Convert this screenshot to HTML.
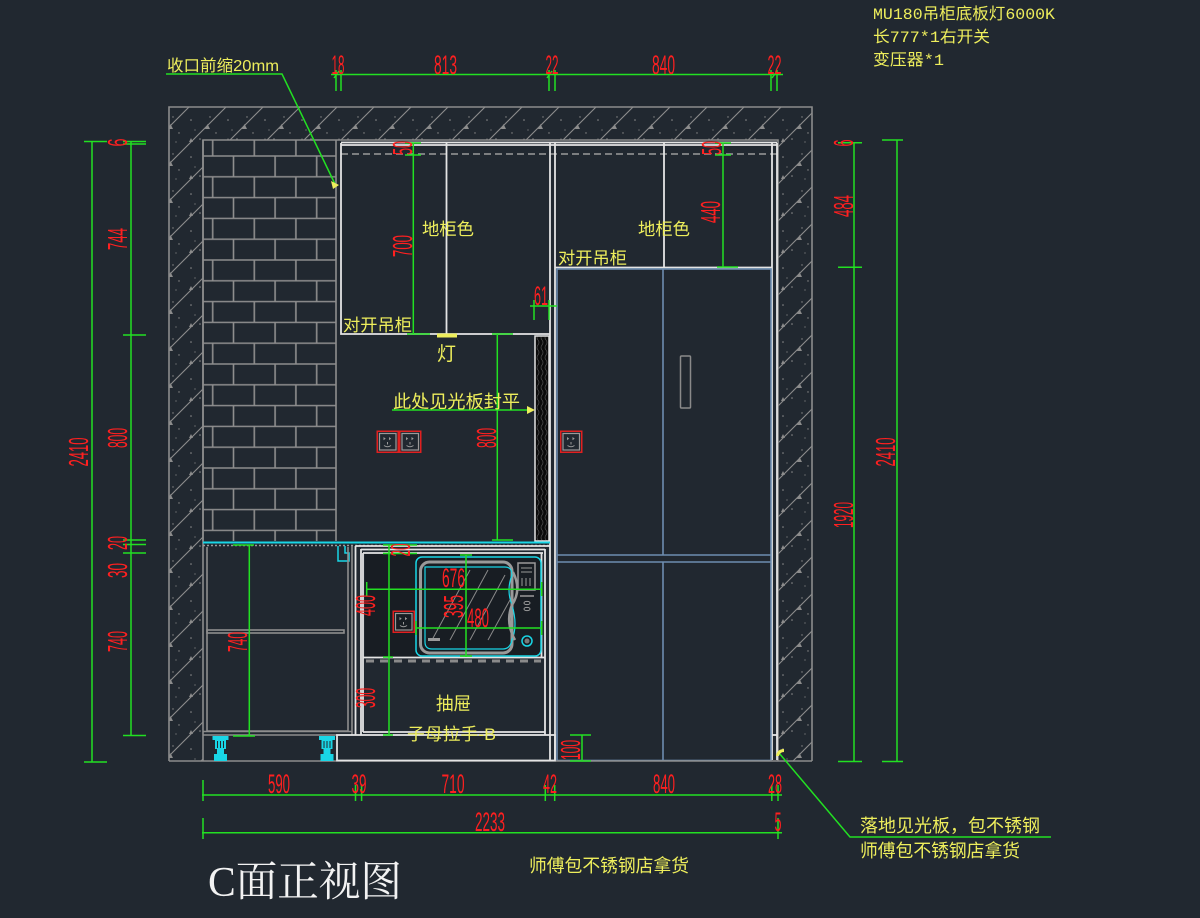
<!DOCTYPE html>
<html><head><meta charset="utf-8">
<style>
html,body{margin:0;padding:0;background:#212830;}
svg{display:block}
.y{fill:#eeee5c;font-family:"Liberation Sans","WenQuanYi Zen Hei","Noto Sans CJK SC",sans-serif;}
.ym{fill:#eeee5c;font-family:"Liberation Mono","WenQuanYi Zen Hei","Noto Sans CJK SC",monospace;}
.r{fill:#ff2020;font-family:"Liberation Sans",sans-serif;font-size:28px;}
.rh{fill:#ff2020;font-family:"Liberation Sans",sans-serif;font-size:27px;}
</style></head><body>
<svg width="1200" height="918" viewBox="0 0 1200 918" xmlns="http://www.w3.org/2000/svg">
<defs>
<pattern id="h" patternUnits="userSpaceOnUse" width="37" height="37">
<path d="M0,37L37,0M-4,4L4,-4M33,41L41,33" stroke="#8c8c8c" stroke-width="1.1"/>
<g fill="#8c8c8c">
<circle cx="6" cy="9" r=".8"/><circle cx="25" cy="6" r=".7"/><circle cx="15" cy="28" r=".8"/><circle cx="31" cy="22" r=".7"/><circle cx="10" cy="19" r=".6"/><circle cx="28" cy="31" r=".6"/>
<path d="M20,18l2.5,-5l2.5,5z"/><path d="M4,31l2,-4l2,4z"/>
</g>
</pattern>
<pattern id="b" patternUnits="userSpaceOnUse" x="212.7" y="135.2" width="41.6" height="41.6">
<path d="M0,0H41.6M0,20.8H41.6M0,41.6H41.6M0,0V20.8M41.6,0V20.8M20.8,20.8V41.6" stroke="#8e8e8e" stroke-width="1.6" fill="none"/>
</pattern>
<pattern id="w" patternUnits="userSpaceOnUse" width="4" height="10">
<path d="M2,0q2,2.5 0,5q-2,2.5 0,5" stroke="#4e4e4e" fill="none" stroke-width=".7"/>
</pattern>
<g id="sk">
<rect x="0.75" y="0.75" width="21" height="21" fill="none" stroke="#e02020" stroke-width="1.5"/>
<rect x="3" y="3" width="16.5" height="16.5" fill="none" stroke="#9a9a9a" stroke-width="1.2"/>
<path d="M7,6.5l2.2,1.6l-2.2,1.6zM12.5,6.5l2.2,1.6l-2.2,1.6z" fill="#9a9a9a"/>
<path d="M11,11.5v2.5M7.5,15q3.5,2.5 7,0" stroke="#9a9a9a" fill="none" stroke-width="1"/>
</g>
<g id="leg" fill="#19d6e6">
<rect x="0" y="0" width="16" height="4"/><rect x="2.5" y="4" width="11" height="9"/><rect x="4.5" y="13" width="7" height="5"/><rect x="1.5" y="18" width="13" height="7"/>
<path d="M5,5v7M8,5v7M11,5v7" stroke="#212830" stroke-width="1"/>
</g>
</defs>

<!-- walls -->
<rect x="169" y="107" width="643" height="33" fill="url(#h)"/>
<rect x="169" y="140" width="34" height="621" fill="url(#h)"/>
<rect x="778" y="140" width="34" height="621" fill="url(#h)"/>
<path d="M169,761V107H812V761M203,761V140H778V761M169,761H203M778,761H812" stroke="#8c8c8c" stroke-width="1.6" fill="none"/>

<!-- bricks -->
<rect x="203" y="140" width="133" height="401" fill="url(#b)"/>
<path d="M203,140V541M336,140V541" stroke="#8e8e8e" stroke-width="1.6"/>

<!-- upper cabinets -->
<path d="M341,154H777" stroke="#9a9a9a" stroke-width="1.6" stroke-dasharray="7 4"/>
<g stroke="#e4e4e4" stroke-width="1.8" fill="none">
<path d="M341,142.5H777M341,145H777"/>
<path d="M341,143V334H550"/>
<path d="M446.5,143V334"/>
<path d="M550,143V760M555,143V760"/>
<path d="M555,267.5H772"/>
<path d="M664,143V267"/>
<path d="M772,143V760M777,143V760"/>
<path d="M772,735H777"/>
</g>

<!-- fridge -->
<g stroke="#6d8db0" stroke-width="1.6" fill="none">
<rect x="557" y="269" width="214" height="491.5"/>
<path d="M663,269V555M663,562V760M557,555H771M557,562H771"/>
</g>
<rect x="680.5" y="356" width="10" height="52" rx="1" fill="none" stroke="#8a8a8a" stroke-width="1.5"/>
<use href="#sk" x="560" y="430.5"/>

<!-- dark panel -->
<rect x="535" y="336" width="14" height="205" fill="#0b0b0b"/>
<rect x="535" y="336" width="14" height="205" fill="url(#w)" stroke="#e4e4e4" stroke-width="1.5"/>

<!-- sockets left -->
<use href="#sk" x="376.5" y="430.5"/>
<use href="#sk" x="399" y="430.5"/>

<!-- lower section -->
<path d="M203,542.5H550" stroke="#19d6e6" stroke-width="2"/>
<path d="M203,545.5H550" stroke="#9a9a9a" stroke-width="1.5" stroke-dasharray="2 2"/>
<path d="M338,546V561H349V553H345V546" stroke="#19d6e6" stroke-width="1.5" fill="none"/>
<g stroke="#8e8e8e" stroke-width="1.6" fill="none">
<path d="M207,547V731H348V547"/>
<path d="M352,546V735"/>
<rect x="207" y="630" width="137" height="3"/>
<path d="M203,735H337M203,731.5H352"/>
<path d="M203,761H778"/>
</g>
<rect x="365" y="553" width="176.5" height="104" fill="#181d23"/>
<g stroke="#e4e4e4" stroke-width="1.8" fill="none">
<path d="M355.5,546V735M361,549V735M363,553V732"/>
<path d="M355.5,546H550M361,549.5H545M363,553H543"/>
<path d="M545,549V735M541.5,553V657"/>
<path d="M363,657.5H545"/>
<path d="M363,732H545"/>
<rect x="337" y="735" width="218" height="25.5"/>
</g>
<path d="M366,661H541" stroke="#8a8a8a" stroke-width="3" stroke-dasharray="8 6"/>

<!-- microwave -->
<rect x="416" y="557" width="125" height="99" rx="6" fill="none" stroke="#19d6e6" stroke-width="1.5"/>
<rect x="420.5" y="562" width="91.5" height="91" rx="9" fill="none" stroke="#9a9a9a" stroke-width="3"/>
<path d="M425,567H505Q512,567 512,575Q506,590 512,605Q518,625 512,640Q510,649 503,649H432Q425,649 425,642Z" fill="none" stroke="#19d6e6" stroke-width="1.2"/>
<path d="M513,572Q522,590 512,605Q505,622 515,640" stroke="#9a9a9a" stroke-width="2.5" fill="none"/>
<g stroke="#8a8a8a" stroke-width="1">
<path d="M432,640L470,570M450,640L488,570M470,640L505,575M488,640L510,600"/>
</g>
<rect x="428" y="638" width="12" height="3" fill="#9a9a9a"/>
<rect x="518" y="563" width="17" height="27" fill="none" stroke="#9a9a9a" stroke-width="1.5"/>
<path d="M521,568H532M521,572H532M522,578V586M526,578V586M530,578V586" stroke="#9a9a9a" stroke-width="1"/>
<path d="M520,596H534" stroke="#9a9a9a" stroke-width="1.5"/>
<ellipse cx="527" cy="603" rx="3" ry="1.6" fill="none" stroke="#9a9a9a"/>
<ellipse cx="527" cy="609" rx="3" ry="1.6" fill="none" stroke="#9a9a9a"/>
<circle cx="527" cy="641" r="5" fill="none" stroke="#19d6e6" stroke-width="1.5"/>
<circle cx="527" cy="641" r="2.5" fill="#7a7a7a"/>
<use href="#sk" x="392.5" y="610.5"/>

<!-- legs -->
<use href="#leg" x="212.5" y="736"/>
<use href="#leg" x="319" y="736"/>

<!-- green dimension lines -->
<g stroke="#22e022" stroke-width="1.5" fill="none">
<!-- top -->
<path d="M331,74.5H783"/>
<path d="M336,70V91M341,70V91M549,70V91M555,70V91M771,70V91M777,70V91"/>
<path d="M334,78l5,-7M547,78l5,-7M772,78l5,-7"/>
<!-- leader top-left -->
<path d="M166,74H282L335,184"/>
<!-- left outer -->
<path d="M92,141.5V762M84,141.5H107M84,762H107"/>
<!-- left inner -->
<path d="M131,141.5V735.5M123,141.5H146M123,144H146M123,335H146M123,540H146M123,544.5H146M123,553H146M123,735.5H146"/>
<!-- right inner -->
<path d="M854,142.7V761.5M838,142.7H862M838,267.3H862M838,761.5H862"/>
<!-- right outer -->
<path d="M897,140V761.5M882,140H903M882,761.5H903"/>
<!-- upper cab dims -->
<path d="M413.3,143V334M405,143H421M405,155H421M407,334H430"/>
<path d="M723,143V267M715,143H731M715,155H731M717,267H738"/>
<path d="M530,306H557M534,300V320M549,300V320"/>
<path d="M497.3,334V540M492,334H513M492,540H513"/>
<path d="M392,410H533"/>
<!-- lower dims -->
<path d="M249.3,545V736M233,545H254M233,736H255"/>
<path d="M389,545V735M383,545H417M383,553.5H417M383,657H393M383,735H393"/>
<path d="M366.7,589.3H541.7M366.7,582V596M541.7,582V596"/>
<path d="M416,628H541.7M416,621V635M541.7,621V635"/>
<path d="M466,555V657M460,555H472M460,656H472"/>
<path d="M582,735V761M570,735H591M570,761H591"/>
<!-- bottom leader -->
<path d="M779,753L850,837H1051"/>
<!-- bottom dims -->
<path d="M202,795H782M203,780V801M355.5,785V801M361.6,785V801M545.3,785V801M554.7,785V801M771.8,785V801M778,785V801"/>
<path d="M202,832.7H782M203,818V839M778,818V839"/>
</g>

<!-- yellow arrows / marks -->
<g fill="#eeee5c">
<path d="M331,181L339,185L333,189Z"/>
<path d="M527,406L535,410L527,414Z"/>
<path d="M776,756Q777,749 784,749L784,752Q780,752 779,756Z"/>
<rect x="437" y="333.5" width="20" height="4"/>
</g>

<!-- red dimension texts horizontal -->
<g class="rh" text-anchor="middle" lengthAdjust="spacingAndGlyphs">
<text x="338" y="74" textLength="13" lengthAdjust="spacingAndGlyphs">18</text>
<text x="445.5" y="74" textLength="23" lengthAdjust="spacingAndGlyphs">813</text>
<text x="552" y="74" textLength="13" lengthAdjust="spacingAndGlyphs">22</text>
<text x="663.5" y="74" textLength="23" lengthAdjust="spacingAndGlyphs">840</text>
<text x="774.5" y="74" textLength="14" lengthAdjust="spacingAndGlyphs">22</text>
<text x="279" y="793" textLength="22" lengthAdjust="spacingAndGlyphs">590</text>
<text x="359" y="793" textLength="15" lengthAdjust="spacingAndGlyphs">39</text>
<text x="453" y="793" textLength="23" lengthAdjust="spacingAndGlyphs">710</text>
<text x="550" y="793" textLength="14" lengthAdjust="spacingAndGlyphs">42</text>
<text x="664" y="793" textLength="22" lengthAdjust="spacingAndGlyphs">840</text>
<text x="775" y="793" textLength="14" lengthAdjust="spacingAndGlyphs">28</text>
<text x="490" y="831" textLength="30" lengthAdjust="spacingAndGlyphs">2233</text>
<text x="778" y="831" textLength="7" lengthAdjust="spacingAndGlyphs">5</text>
<text x="541" y="305" textLength="14" lengthAdjust="spacingAndGlyphs">61</text>
<text x="453.5" y="587" textLength="23" lengthAdjust="spacingAndGlyphs">676</text>
<text x="478" y="627" textLength="22" lengthAdjust="spacingAndGlyphs">480</text>
</g>

<!-- red rotated texts -->
<g class="r" text-anchor="middle">
<text transform="translate(88,452) rotate(-90)" textLength="29" lengthAdjust="spacingAndGlyphs">2410</text>
<text transform="translate(127,142.5) rotate(-90)" textLength="8" lengthAdjust="spacingAndGlyphs">6</text>
<text transform="translate(127,239) rotate(-90)" textLength="22" lengthAdjust="spacingAndGlyphs">744</text>
<text transform="translate(127,438) rotate(-90)" textLength="20" lengthAdjust="spacingAndGlyphs">800</text>
<text transform="translate(127,543) rotate(-90)" textLength="14" lengthAdjust="spacingAndGlyphs">20</text>
<text transform="translate(127,570.5) rotate(-90)" textLength="15" lengthAdjust="spacingAndGlyphs">30</text>
<text transform="translate(127,641.5) rotate(-90)" textLength="21" lengthAdjust="spacingAndGlyphs">740</text>
<text transform="translate(412,148) rotate(-90)" textLength="14" lengthAdjust="spacingAndGlyphs">50</text>
<text transform="translate(412,246) rotate(-90)" textLength="22" lengthAdjust="spacingAndGlyphs">700</text>
<text transform="translate(496,438) rotate(-90)" textLength="20" lengthAdjust="spacingAndGlyphs">800</text>
<text transform="translate(721,148) rotate(-90)" textLength="14" lengthAdjust="spacingAndGlyphs">50</text>
<text transform="translate(720,212) rotate(-90)" textLength="22" lengthAdjust="spacingAndGlyphs">440</text>
<text transform="translate(853,143) rotate(-90)" textLength="7" lengthAdjust="spacingAndGlyphs">6</text>
<text transform="translate(853,206) rotate(-90)" textLength="22" lengthAdjust="spacingAndGlyphs">484</text>
<text transform="translate(853,515) rotate(-90)" textLength="26" lengthAdjust="spacingAndGlyphs">1920</text>
<text transform="translate(895,452) rotate(-90)" textLength="29" lengthAdjust="spacingAndGlyphs">2410</text>
<text transform="translate(247,642) rotate(-90)" textLength="20" lengthAdjust="spacingAndGlyphs">740</text>
<text transform="translate(375,605.5) rotate(-90)" textLength="21" lengthAdjust="spacingAndGlyphs">400</text>
<text transform="translate(375,698) rotate(-90)" textLength="20" lengthAdjust="spacingAndGlyphs">300</text>
<text transform="translate(410,550) rotate(-90)" textLength="13" lengthAdjust="spacingAndGlyphs">20</text>
<text transform="translate(463,606.5) rotate(-90)" textLength="23" lengthAdjust="spacingAndGlyphs">395</text>
<text transform="translate(580,750) rotate(-90)" textLength="20" lengthAdjust="spacingAndGlyphs">100</text>
</g>

<!-- yellow texts -->
<text class="y" x="167" y="71" font-size="16" textLength="112" lengthAdjust="spacingAndGlyphs">收口前缩20mm</text>
<text class="y" x="422" y="235" font-size="17" textLength="52" lengthAdjust="spacingAndGlyphs">地柜色</text>
<text class="y" x="638" y="235" font-size="17" textLength="52" lengthAdjust="spacingAndGlyphs">地柜色</text>
<text class="y" x="343" y="331" font-size="17" textLength="69" lengthAdjust="spacingAndGlyphs">对开吊柜</text>
<text class="y" x="558" y="264" font-size="17" textLength="69" lengthAdjust="spacingAndGlyphs">对开吊柜</text>
<text class="y" x="437" y="360" font-size="19" textLength="19" lengthAdjust="spacingAndGlyphs">灯</text>
<text class="y" x="393" y="408" font-size="18" textLength="127" lengthAdjust="spacingAndGlyphs">此处见光板封平</text>
<text class="y" x="436" y="710" font-size="18" textLength="35" lengthAdjust="spacingAndGlyphs">抽屉</text>
<text class="y" x="407" y="740" font-size="17" textLength="89" lengthAdjust="spacingAndGlyphs">子母拉手-B</text>
<text class="ym" x="873" y="19" font-size="16" textLength="182" lengthAdjust="spacingAndGlyphs">MU180吊柜底板灯6000K</text>
<text class="ym" x="873" y="42" font-size="16" textLength="117" lengthAdjust="spacingAndGlyphs">长777*1右开关</text>
<text class="ym" x="873" y="65" font-size="16" textLength="71" lengthAdjust="spacingAndGlyphs">变压器*1</text>
<text class="y" x="860" y="832" font-size="18" textLength="180" lengthAdjust="spacingAndGlyphs">落地见光板，包不锈钢</text>
<text class="y" x="860" y="857" font-size="18" textLength="160" lengthAdjust="spacingAndGlyphs">师傅包不锈钢店拿货</text>
<text class="y" x="529" y="872" font-size="18" textLength="160" lengthAdjust="spacingAndGlyphs">师傅包不锈钢店拿货</text>

<text x="208" y="896" font-size="42" fill="#f2f2f2" font-family="'Liberation Serif','Noto Serif CJK SC',serif" textLength="194" lengthAdjust="spacingAndGlyphs">C面正视图</text>
</svg>
</body></html>
